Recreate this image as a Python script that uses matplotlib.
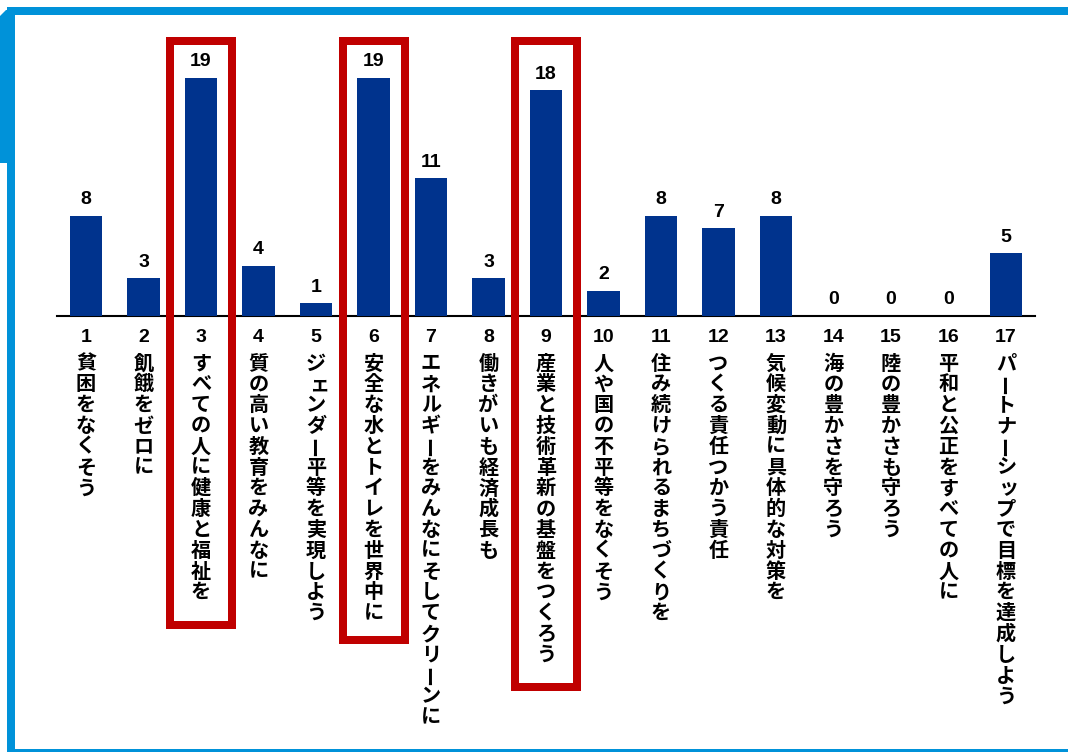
import matplotlib.pyplot as plt
from matplotlib.patches import Rectangle, Polygon

# SDG goals and counts
goal_no = [str(i) for i in range(1, 18)]
goal_name = [
    "貧困をなくそう", "飢餓をゼロに", "すべての人に健康と福祉を", "質の高い教育をみんなに",
    "ジェンダー平等を実現しよう", "安全な水とトイレを世界中に", "エネルギーをみんなにそしてクリーンに",
    "働きがいも経済成長も", "産業と技術革新の基盤をつくろう", "人や国の不平等をなくそう",
    "住み続けられるまちづくりを", "つくる責任つかう責任", "気候変動に具体的な対策を",
    "海の豊かさを守ろう", "陸の豊かさも守ろう", "平和と公正をすべての人に",
    "パートナーシップで目標を達成しよう",
]
counts = [8, 3, 19, 4, 1, 19, 11, 3, 18, 2, 8, 7, 8, 0, 0, 0, 5]
highlight = [3, 6, 9]

W, H = 1068, 752
NAVY = "#00338D"
RED = "#C00000"
BLUE = "#0092D9"
JP = ["Noto Sans CJK JP", "DejaVu Sans"]
NUM = ["Liberation Sans", "DejaVu Sans"]

fig = plt.figure(figsize=(W / 100, H / 100), dpi=100)
fig.patch.set_facecolor("white")

# axes placed in pixels: baseline at y=316 from top, 12.53 px per unit
ppu = 12.53
base_y = 316
top_y = 37
ax_left, ax_right = 57.25, 1034.75
ax = fig.add_axes([ax_left / W, (H - base_y) / H, (ax_right - ax_left) / W, (base_y - top_y) / H])
ax.set_xlim(-0.5, len(counts) - 0.5)
ax.set_ylim(0, (base_y - top_y) / ppu)
ax.axis("off")
ax.axhline(0, color="black", lw=1.5, clip_on=False)

x = list(range(len(counts)))
ax.bar(x, counts, width=0.56, color=NAVY, zorder=2)

for i, v in enumerate(counts):
    ax.text(i, v + 16 / ppu, str(v), ha="center", va="center", fontsize=14,
            fontweight="bold", family=NUM)

# vertical labels below the axis
num_off = 21
first_off = 47
step = 20.8
small = set("ェッャュョァィゥォ")
for i, (n, name) in enumerate(zip(goal_no, goal_name)):
    ax.text(i, -num_off / ppu, n, ha="center", va="center", fontsize=14,
            fontweight="bold", family=NUM, clip_on=False)
    for k, ch in enumerate(name):
        yy = -(first_off + k * step) / ppu
        xx = i
        rot = 0
        if ch == "ー":
            rot = 90
        if ch in small:
            xx += 3 / 57.5
        ax.text(xx, yy, ch, ha="center", va="center", fontsize=14.5,
                fontweight="bold", family=JP, rotation=rot, clip_on=False)

# red highlight boxes
box_w = 62 / 57.5
pads = {3: 33, 6: 27, 9: 33}
for g in highlight:
    i = g - 1
    n = len(goal_name[i])
    bottom = -(first_off + (n - 1) * step + pads[g]) / ppu
    top = (base_y - 41) / ppu
    ax.add_patch(Rectangle((i - box_w / 2, bottom), box_w, top - bottom, fill=False,
                           ec=RED, lw=8 * 72 / 100, clip_on=False, zorder=3,
                           joinstyle="miter"))

# blue frame
def rect(x0, y0, x1, y1):
    fig.patches.append(Rectangle((x0 / W, 1 - y1 / H), (x1 - x0) / W, (y1 - y0) / H,
                                 transform=fig.transFigure, fc=BLUE, ec="none"))

rect(7, 7, W, 15)
rect(7, 7, 15, H)
rect(7, 749, W, H)
fig.patches.append(Polygon([(0 / W, 1 - 163 / H), (0 / W, 1 - 16 / H), (6 / W, 1 - 10 / H),
                            (15 / W, 1 - 10 / H), (15 / W, 1 - 163 / H)],
                           transform=fig.transFigure, fc=BLUE, ec="none"))

fig.savefig("out.png", dpi=100)
